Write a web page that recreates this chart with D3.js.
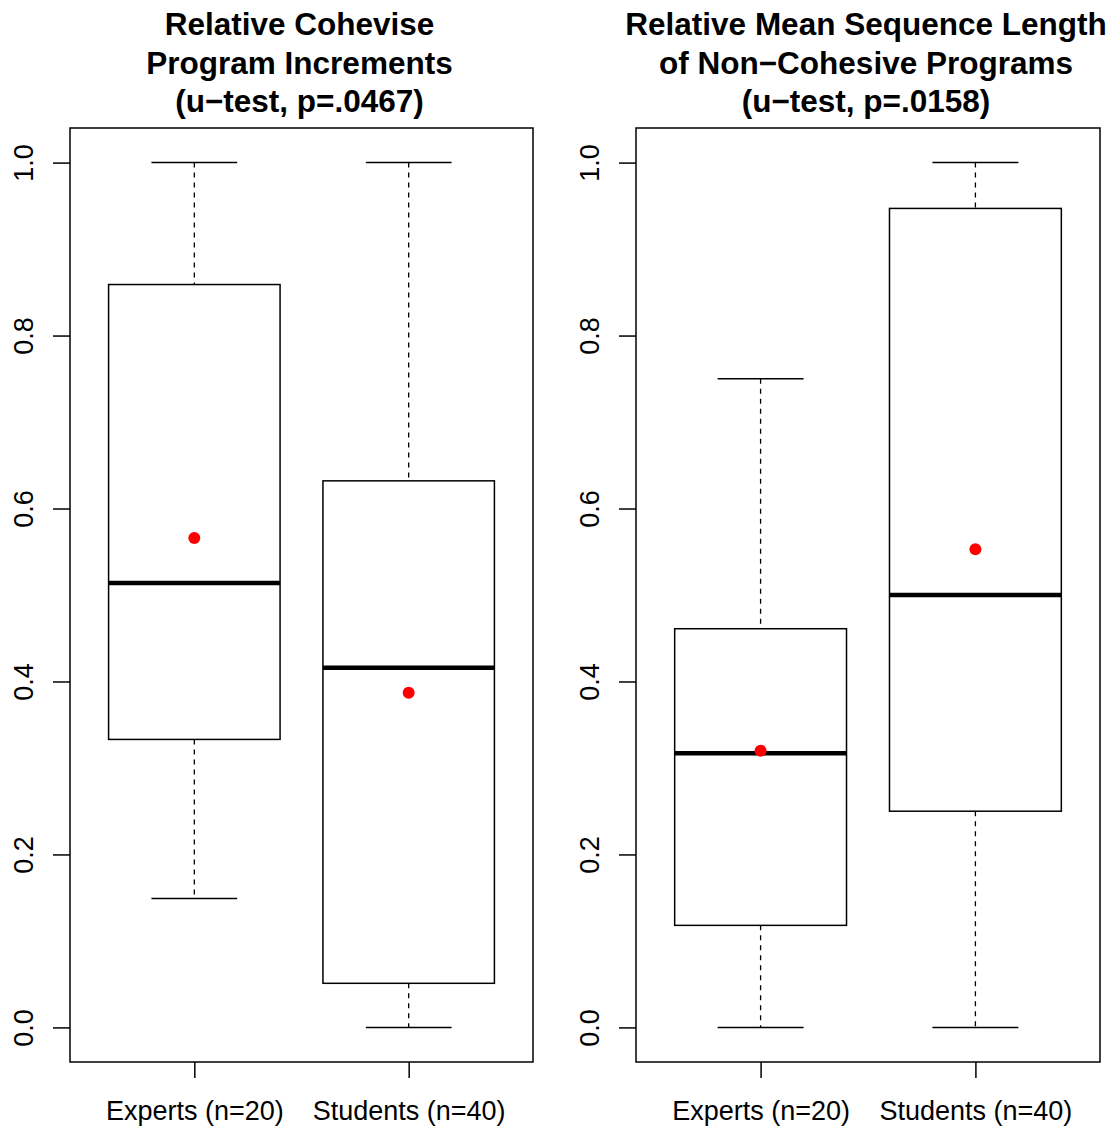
<!DOCTYPE html>
<html>
<head>
<meta charset="utf-8">
<script src="https://cdn.jsdelivr.net/npm/d3@7"></script>
<style>
  body { margin: 0; background: #fff; }
  svg { display: block; font-family: "Liberation Sans", Arial, sans-serif; }
</style>
</head>
<body>
<div id="chart"></div>
<script>
const width = 1112;
const height = 1128;

// data
const groups = ['Experts (n=20)', 'Students (n=40)'];
const titles = [
  ['Relative Cohevise', 'Program Increments', '(u\u2212test, p=.0467)'],
  ['Relative Mean Sequence Length', 'of Non\u2212Cohesive Programs', '(u\u2212test, p=.0158)']
];
const lowWhisker = [[0.149, 0.0], [0.0, 0.0]];
const q1s = [[0.333, 0.051], [0.118, 0.25]];
const medians = [[0.514, 0.416], [0.317, 0.5]];
const q3s = [[0.859, 0.632], [0.461, 0.947]];
const highWhisker = [[1.0, 1.0], [0.75, 1.0]];
const means = [[0.566, 0.387], [0.320, 0.553]];
const yTicks = [0, 0.2, 0.4, 0.6, 0.8, 1.0];

const panels = [
  { left: 70, right: 533 },
  { left: 636, right: 1100 }
];
const plotTop = 128, plotBottom = 1062;

const svg = d3.select('#chart')
  .append('svg')
  .attr('width', width)
  .attr('height', height)
  .attr('viewBox', [0, 0, width, height]);

panels.forEach((p, k) => {
  const g = svg.append('g');

  const x = d3.scaleLinear()
    .domain([0.42, 2.58])
    .range([p.left, p.right]);

  const y = d3.scaleLinear()
    .domain([-0.04, 1.04])
    .range([plotBottom, plotTop]);

  const bw = x(1.4) - x(1);   // half box width
  const cw = bw / 2;           // half cap width

  // title
  const cx = (p.left + p.right) / 2 - 2;
  g.append('text')
    .attr('text-anchor', 'middle')
    .attr('font-weight', 'bold')
    .attr('font-size', '31.5px')
    .selectAll('tspan')
    .data(titles[k])
    .join('tspan')
      .attr('x', cx)
      .attr('y', (d, i) => 35 + i * 38.5)
      .text(d => d);

  groups.forEach((name, i) => {
    const c = x(i + 1);
    const box = g.append('g');

    // whiskers
    box.append('line')
      .attr('x1', c).attr('x2', c)
      .attr('y1', y(highWhisker[k][i])).attr('y2', y(q3s[k][i]))
      .attr('stroke', '#000').attr('stroke-width', 1.3)
      .attr('stroke-dasharray', '5,5');
    box.append('line')
      .attr('x1', c).attr('x2', c)
      .attr('y1', y(q1s[k][i])).attr('y2', y(lowWhisker[k][i]))
      .attr('stroke', '#000').attr('stroke-width', 1.3)
      .attr('stroke-dasharray', '5,5');

    // caps
    [highWhisker[k][i], lowWhisker[k][i]].forEach(v => {
      box.append('line')
        .attr('x1', c - cw).attr('x2', c + cw)
        .attr('y1', y(v)).attr('y2', y(v))
        .attr('stroke', '#000').attr('stroke-width', 1.5);
    });

    // box
    box.append('rect')
      .attr('x', c - bw)
      .attr('y', y(q3s[k][i]))
      .attr('width', 2 * bw)
      .attr('height', y(q1s[k][i]) - y(q3s[k][i]))
      .attr('fill', 'none')
      .attr('stroke', '#000')
      .attr('stroke-width', 1.5);

    // median
    box.append('line')
      .attr('x1', c - bw).attr('x2', c + bw)
      .attr('y1', y(medians[k][i])).attr('y2', y(medians[k][i]))
      .attr('stroke', '#000').attr('stroke-width', 4.5);

    // mean
    box.append('circle')
      .attr('cx', c)
      .attr('cy', y(means[k][i]))
      .attr('r', 6)
      .attr('fill', '#ff0000');
  });

  // frame
  g.append('rect')
    .attr('x', p.left).attr('y', plotTop)
    .attr('width', p.right - p.left)
    .attr('height', plotBottom - plotTop)
    .attr('fill', 'none')
    .attr('stroke', '#000')
    .attr('stroke-width', 1.5);

  // y axis, labels rotated like R's las=0
  const ya = g.append('g')
    .attr('transform', `translate(${p.left},0)`)
    .call(d3.axisLeft(y).tickValues(yTicks).tickSize(17).tickFormat(d3.format('.1f')));
  ya.select('.domain').remove();
  ya.selectAll('line').attr('stroke-width', 1.5);
  ya.selectAll('.tick text')
    .attr('font-size', '27px')
    .attr('font-family', '"Liberation Sans", Arial, sans-serif')
    .attr('fill', '#000')
    .attr('text-anchor', 'middle')
    .attr('x', 0)
    .attr('y', -37)
    .attr('dy', 0)
    .attr('transform', 'rotate(-90)');

  // x axis
  const xa = g.append('g')
    .attr('transform', `translate(0,${plotBottom})`)
    .call(d3.axisBottom(x).tickValues([1, 2]).tickSize(16).tickFormat((d, i) => groups[i]));
  xa.select('.domain').remove();
  xa.selectAll('line').attr('stroke-width', 1.5);
  xa.selectAll('text')
    .attr('font-size', '27px')
    .attr('font-family', '"Liberation Sans", Arial, sans-serif')
    .attr('fill', '#000')
    .attr('y', 58)
    .attr('dy', 0);
});

svg.node();
</script>
</body>
</html>
